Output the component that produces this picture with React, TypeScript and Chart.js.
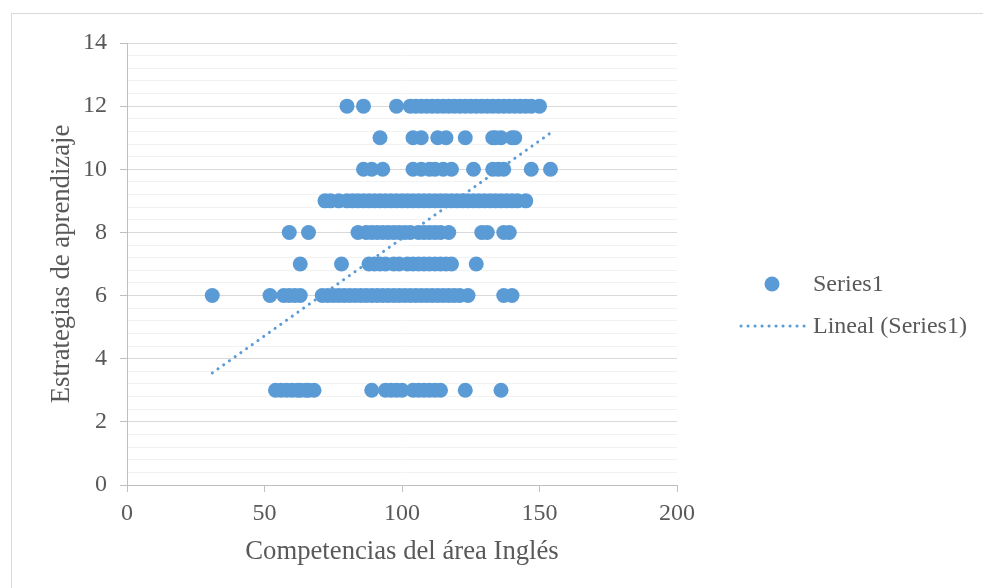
import React, { useEffect, useRef } from "react";
import { Chart, registerables } from "chart.js";

Chart.register(...registerables);

// ---- data ----
const xTickValues = [0, 50, 100, 150, 200];
const yTickLabels = [0, 2, 4, 6, 8, 10, 12, 14];

// x values of the points on each y level
const row12 = [80, 86, 98, 103, 105, 107, 109, 111, 113, 115, 117, 119, 121, 123, 125, 127, 129, 131, 133, 135, 137, 139, 141, 143, 145, 147, 150];
const row11 = [92, 104, 107, 113, 116, 123, 133, 134, 136, 140, 141];
const row10 = [86, 89, 93, 104, 107, 110, 112, 115, 118, 126, 133, 135, 137, 147, 154];
const row9 = [72, 74, 77, 80, 82, 84, 86, 88, 90, 92, 94, 96, 98, 100, 102, 104, 106, 108, 110, 112, 114, 116, 118, 120, 122, 124, 126, 128, 130, 132, 134, 136, 138, 140, 142, 145];
const row8 = [59, 66, 84, 87, 89, 91, 93, 95, 97, 99, 101, 103, 106, 108, 110, 112, 114, 117, 129, 131, 137, 139];
const row7 = [63, 78, 88, 90, 92, 94, 97, 99, 102, 104, 106, 108, 110, 112, 114, 116, 118, 127];
const row6 = [31, 52, 57, 59, 61, 63, 71, 73, 75, 77, 79, 81, 83, 85, 87, 89, 91, 93, 95, 97, 99, 101, 103, 105, 107, 109, 111, 113, 115, 117, 119, 121, 124, 137, 140];
const row3 = [54, 56, 58, 60, 62, 63, 65, 66, 68, 89, 94, 96, 98, 100, 104, 106, 108, 110, 112, 114, 123, 136];

const rowLevels = [12, 11, 10, 9, 8, 7, 6, 3];
const rows = [row12, row11, row10, row9, row8, row7, row6, row3];

// linear trendline end points
const trendX = [31, 154];
const trendY = [3.55, 11.15];

const BLUE = "#5B9BD5";
const TEXT = "#595959";
const FONT = "'Liberation Serif', 'Times New Roman', serif";

const isMajor = (v: number) => yTickLabels.some((t) => Math.abs(t - v) < 1e-6);

const legendPlugin = {
  id: "customLegend",
  afterDraw(chart: any) {
    const ctx = chart.ctx;
    ctx.save();
    ctx.fillStyle = BLUE;
    ctx.beginPath();
    ctx.arc(772, 284, 7.5, 0, Math.PI * 2);
    ctx.fill();
    ctx.strokeStyle = BLUE;
    ctx.lineWidth = 3;
    ctx.lineCap = "round";
    ctx.setLineDash([0.1, 6.9]);
    ctx.beginPath();
    ctx.moveTo(741, 326);
    ctx.lineTo(805, 326);
    ctx.stroke();
    ctx.setLineDash([]);
    ctx.fillStyle = TEXT;
    ctx.font = `24px ${FONT}`;
    ctx.textAlign = "left";
    ctx.textBaseline = "middle";
    ctx.fillText("Series1", 813, 285);
    ctx.fillText("Lineal (Series1)", 813, 327);
    ctx.restore();
  },
};

export default function App() {
  const ref = useRef<HTMLCanvasElement | null>(null);

  useEffect(() => {
    if (!ref.current) return;
    const points: { x: number; y: number }[] = [];
    rows.forEach((r, i) => r.forEach((x) => points.push({ x, y: rowLevels[i] })));

    const chart = new Chart(ref.current, {
      type: "scatter",
      data: {
        datasets: [
          {
            label: "Lineal (Series1)",
            type: "line",
            data: trendX.map((x, i) => ({ x, y: trendY[i] })),
            borderColor: BLUE,
            borderWidth: 3,
            borderDash: [0.1, 6.9],
            borderCapStyle: "round",
            pointRadius: 0,
            fill: false,
            order: 0,
          } as any,
          {
            label: "Series1",
            data: points,
            backgroundColor: BLUE,
            borderColor: BLUE,
            borderWidth: 0,
            pointRadius: 7.5,
            order: 1,
          },
        ],
      },
      options: {
        responsive: false,
        animation: false,
        layout: { padding: { left: 46, top: 43, right: 306, bottom: 20 } },
        plugins: { legend: { display: false }, tooltip: { enabled: false } },
        scales: {
          x: {
            type: "linear",
            min: 0,
            max: 200,
            afterFit: (s: any) => {
              s.height = 83;
            },
            afterBuildTicks: (s: any) => {
              s.ticks = xTickValues.map((v) => ({ value: v }));
            },
            grid: {
              drawOnChartArea: false,
              drawTicks: true,
              tickLength: 7,
              tickColor: "#bfbfbf",
              color: "#bfbfbf",
            },
            border: { color: "#bfbfbf", width: 1 },
            ticks: {
              padding: 7,
              color: TEXT,
              font: { family: FONT, size: 24 },
              maxRotation: 0,
              autoSkip: false,
            },
            title: {
              display: true,
              text: "Competencias del área Inglés",
              color: TEXT,
              font: { family: FONT, size: 26.7 },
              padding: 0,
            },
          },
          y: {
            type: "linear",
            min: 0,
            max: 14,
            afterFit: (s: any) => {
              s.width = 81;
            },
            afterBuildTicks: (s: any) => {
              const t: { value: number }[] = [];
              for (let i = 0; i <= 35; i++) t.push({ value: Math.round(i * 4) / 10 });
              s.ticks = t;
            },
            grid: {
              drawTicks: true,
              tickLength: 7,
              color: (c: any) => (isMajor(c.tick?.value ?? 0) ? "#d9d9d9" : "#f2f2f2"),
              tickColor: (c: any) => (isMajor(c.tick?.value ?? 0) ? "#bfbfbf" : "rgba(0,0,0,0)"),
            },
            border: { color: "#bfbfbf", width: 1 },
            ticks: {
              padding: 13,
              color: TEXT,
              font: { family: FONT, size: 24 },
              autoSkip: false,
              callback: (v: any) => (isMajor(Number(v)) ? String(Math.round(Number(v))) : ""),
            },
            title: {
              display: true,
              text: "Estrategias de aprendizaje",
              color: TEXT,
              font: { family: FONT, size: 26.7 },
              padding: 0,
            },
          },
        },
      },
      plugins: [legendPlugin],
    });
    return () => chart.destroy();
  }, []);

  return (
    <div style={{ position: "fixed", left: 0, top: 0, width: 983, height: 588, overflow: "hidden", background: "#fff" }}>
      <div
        style={{
          position: "absolute",
          left: 11,
          top: 13,
          width: 990,
          height: 600,
          border: "1px solid #d9d9d9",
          boxSizing: "border-box",
        }}
      />
      <canvas ref={ref} width={983} height={588} style={{ position: "absolute", left: 0, top: 0 }} />
    </div>
  );
}
